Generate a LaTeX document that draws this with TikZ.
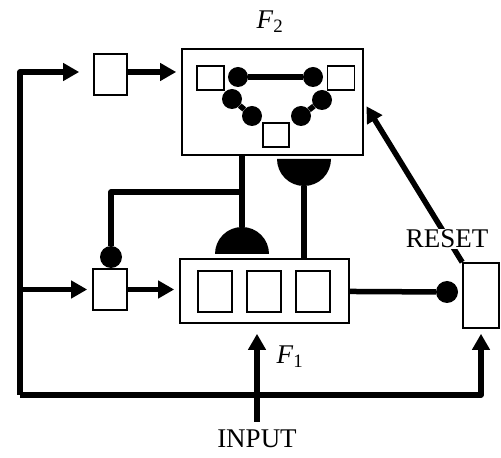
\documentclass[tikz,border=0pt]{standalone}
\usepackage{fontspec}
\setmainfont{Liberation Serif}
\usetikzlibrary{arrows.meta, positioning}

\begin{document}
\begin{tikzpicture}[
    x=1pt, y=1pt,
    node distance=13.5pt,
    font=\fontsize{27}{32}\selectfont,
    % Style definitions
    unit/.style={rectangle, draw=black, line width=1.6pt, fill=white, inner sep=0pt},
    cell/.style={unit, minimum width=34pt, minimum height=41pt},
    slot/.style={unit, minimum width=27pt, minimum height=24pt},
    dot/.style={circle, fill=black, inner sep=0pt, minimum size=20pt},
    wire/.style={line width=5.5pt, line join=round},
    arrow/.style={wire, -{Triangle[length=16pt, width=17pt]}, shorten >=5pt},
]
\useasboundingbox (0,0) rectangle (501,458);

% F2 field
\node[unit, minimum width=181pt, minimum height=106pt] (f2) at (272.5,356) {};
\node at (270,436) (f2lab) {\textit{F}\textsubscript{2}};
\node[slot] (s1) at (210.5,380) {};
\node[slot] (s2) at (341,380) {};
\node[slot, minimum width=26pt] (s3) at (276,323) {};
\node[dot] (d1) at (238,381) {};
\node[dot] (d2) at (313,381) {};
\node[dot] (d3) at (232,359) {};
\node[dot] (d4) at (252,342) {};
\node[dot] (d5) at (322,358) {};
\node[dot] (d6) at (301,342) {};
\draw[wire] (d1) -- (d2);
\draw[wire] (d3) -- (d4);
\draw[wire] (d5) -- (d6);

% F1 field
\node[unit, minimum width=169pt, minimum height=64pt] (f1) at (264.5,167) {};
\node[cell] (c2) at (264,166.5) {};
\node[cell, left=of c2] (c1) {};
\node[cell, right=of c2] (c3) {};
\node at (290,101) (f1lab) {\textit{F}\textsubscript{1}};

% gain control and reset units
\node[cell, minimum width=33pt] (gtop) at (110.5,383.5) {};
\node[cell] (gbot) at (110,168.5) {};
\node[unit, minimum width=36pt, minimum height=65pt] (reset) at (481,162.5) {};
\node[dot, minimum size=22pt] (ginh) at (111,201) {};
\node[dot, minimum size=22pt] (rinh) at (447,166) {};

% half discs (top-down and bottom-up pathways)
\coordinate (hup) at (242,204);
\coordinate (hdown) at (304,299);
\fill (hup) ++(-27,0) arc[start angle=180, end angle=0, radius=27] -- cycle;
\fill (hdown) ++(-27,0) arc[start angle=180, end angle=360, radius=27] -- cycle;

% bus lines
\coordinate (ltop) at (20,386);
\coordinate (lbot) at (20,63);
\coordinate (input) at (257,36);

% Arrows - gain control
\draw[arrow, shorten >=14pt] (lbot) -- (ltop) -- (ltop -| gtop.west);
\draw[arrow] (gtop.east |- ltop) -- (ltop -| f2.west);
\draw[arrow] (ltop |- gbot) -- (gbot);
\draw[arrow] (gbot) -- (gbot -| f1.west);
\draw[arrow] (lbot) -| (reset);

% Arrows - F1 and F2
\draw[wire] (ginh) |- (242,266);
\draw[wire] (hup) ++(0,27) -- (f2.south -| hup);
\draw[wire] (hdown) ++(0,-27) -- (f1.north -| hdown);
\draw[wire] (f1) -- (rinh);
\draw[arrow, shorten >=10pt] (input) -- (f1.south -| input);

% Arrows - reset
\draw[arrow] (reset.north west) -- (f2.east);
\node[fill=white, inner sep=1pt] (resetlab) at (447,219) {RESET};
\node at (257,19) (inputlab) {INPUT};

\end{tikzpicture}
\end{document}
